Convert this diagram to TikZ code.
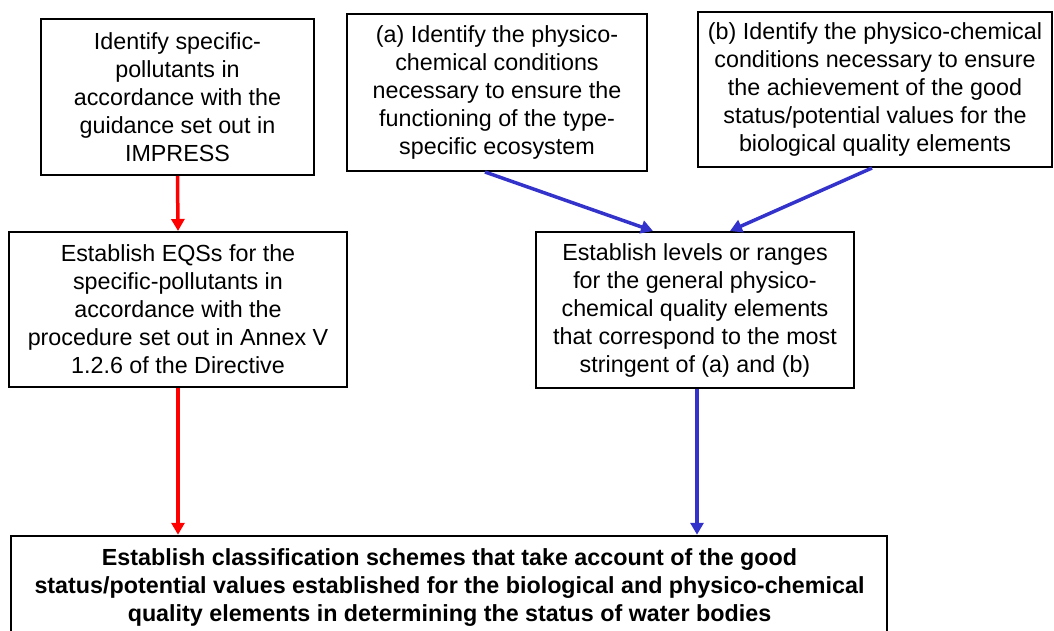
\documentclass[tikz,border=0pt]{standalone}
\usepackage{fontspec}
\setmainfont{Liberation Sans}
\usetikzlibrary{arrows.meta}
\definecolor{arrred}{RGB}{255,0,0}
\definecolor{arrblue}{RGB}{51,51,204}
\begin{document}
\begin{tikzpicture}[x=1pt,y=-1pt,
  box/.style={draw=black,line width=2pt,align=center,inner sep=0pt,
    font=\fontsize{23.3}{28}\selectfont},
  redarr/.style={draw=arrred,line width=3.5pt,-{Triangle[length=12pt,width=13pt]}},
  bluearr/.style={draw=arrblue,line width=3.5pt,-{Triangle[length=12pt,width=13pt]}}]
\useasboundingbox (0,0) rectangle (1054,631);
\node[box,minimum width=273pt,minimum height=156pt] (b1) at (177.5,97)
  {Identify specific-\\pollutants in\\accordance with the\\guidance set out in\\IMPRESS};
\node[box,minimum width=300pt,minimum height=157pt] (ba) at (497,92.5)
  {(a) Identify the physico-\\chemical conditions\\necessary to ensure the\\functioning of the type-\\specific ecosystem};
\node[box,minimum width=354pt,minimum height=155pt] (bb) at (875,89.5)
  {(b) Identify the physico-chemical\\conditions necessary to ensure\\the achievement of the good\\status/potential values for the\\biological quality elements};
\node[box,minimum width=338pt,minimum height=155pt] (beqs) at (178,309.5)
  {Establish EQSs for the\\specific-pollutants in\\accordance with the\\procedure set out in Annex V\\1.2.6 of the Directive};
\node[box,minimum width=318pt,minimum height=156pt] (blev) at (695,310)
  {Establish levels or ranges\\for the general physico-\\chemical quality elements\\that correspond to the most\\stringent of (a) and (b)};
\node[draw=black,line width=2.5pt,minimum width=876pt,minimum height=110pt,inner sep=0pt] (bbot) at (449,591) {};
\node[align=center,font=\fontsize{23.3}{28}\selectfont\bfseries,anchor=north] (tbot) at (449.5,545)
  {Establish classification schemes that take account of the good\\status/potential values established for the biological and physico-chemical\\quality elements in determining the status of water bodies};
\coordinate (levout) at ([xshift=2pt]blev.south);
\draw[redarr] (b1.south) -- (beqs.north);
\draw[redarr] (beqs.south) -- (bbot.north -| beqs.south);
\draw[bluearr] ([xshift=-12pt]ba.south) -- ([xshift=-42pt]blev.north);
\draw[bluearr] ([xshift=-3pt]bb.south) -- ([xshift=35pt]blev.north);
\draw[bluearr] (levout) -- (bbot.north -| levout);
\end{tikzpicture}
\end{document}
